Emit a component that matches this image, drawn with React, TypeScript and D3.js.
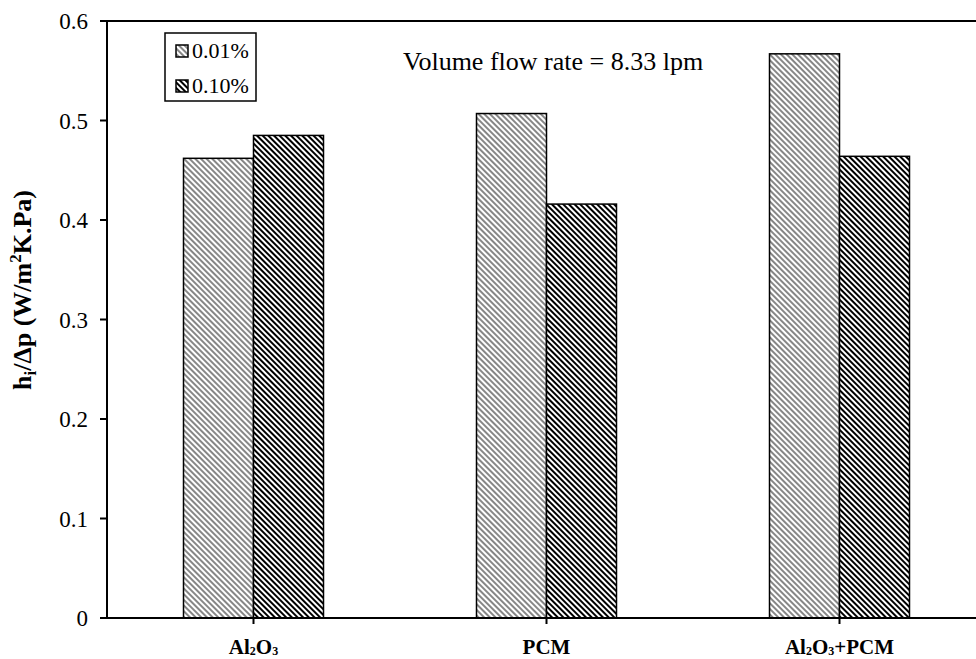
import React, { useRef, useEffect } from 'react';
import * as d3 from 'd3';

const categories = ['Al2O3', 'PCM', 'Al2O3+PCM'];
const seriesNames = ['0.01%', '0.10%'];
const values001 = [0.462, 0.507, 0.567];
const values010 = [0.485, 0.416, 0.464];
const yTicks = [0, 0.1, 0.2, 0.3, 0.4, 0.5, 0.6];

const width = 976;
const height = 659;
const margin = { top: 21, right: -10, bottom: 41, left: 107 };
const serif = "'Liberation Serif', 'Times New Roman', 'DejaVu Serif', serif";

const App: React.FC = () => {
    const svgRef = useRef<SVGSVGElement>(null);

    useEffect(() => {
        if (!svgRef.current) return;
        const svg = d3.select(svgRef.current);
        svg.selectAll('*').remove();

        const innerWidth = width - margin.left - margin.right;
        const innerHeight = height - margin.top - margin.bottom;

        // hatch patterns
        const defs = svg.append('defs');
        const hatch = (id: string, sw: number, color: string) => {
            const p = defs.append('pattern')
                .attr('id', id)
                .attr('patternUnits', 'userSpaceOnUse')
                .attr('width', 4)
                .attr('height', 4)
                .attr('patternTransform', 'rotate(-45)');
            p.append('rect').attr('width', 4).attr('height', 4).attr('fill', '#fff');
            p.append('line')
                .attr('x1', 1).attr('y1', 0).attr('x2', 1).attr('y2', 4)
                .attr('stroke', color).attr('stroke-width', sw);
        };
        hatch('hatch-light', 1.1, '#222');
        hatch('hatch-dark', 2, '#000');
        const fills = ['url(#hatch-light)', 'url(#hatch-dark)'];

        const x0 = d3.scaleBand().domain(categories).range([0, innerWidth]);
        const x1 = d3.scaleBand().domain(seriesNames).range([0, 140]);
        const y = d3.scaleLinear().domain([0, 0.6]).range([innerHeight, 0]);

        const g = svg.append('g').attr('transform', `translate(${margin.left},${margin.top})`);

        // bars
        const seriesData = [values001, values010];
        seriesData.forEach((vals, si) => {
            g.selectAll(`.bar-${si}`)
                .data(vals)
                .enter()
                .append('rect')
                .attr('x', (d, i) => (x0(categories[i]) as number) + x0.bandwidth() / 2 - 70 + (x1(seriesNames[si]) as number))
                .attr('y', d => y(d))
                .attr('width', x1.bandwidth())
                .attr('height', d => innerHeight - y(d))
                .attr('fill', fills[si])
                .attr('stroke', '#000')
                .attr('stroke-width', 1.5);
        });

        // y axis
        g.append('line')
            .attr('x1', 0).attr('x2', 0).attr('y1', 0).attr('y2', innerHeight)
            .attr('stroke', '#000').attr('stroke-width', 2);
        yTicks.forEach(t => {
            g.append('line')
                .attr('x1', -7).attr('x2', 0).attr('y1', y(t)).attr('y2', y(t))
                .attr('stroke', '#000').attr('stroke-width', 2);
            g.append('text')
                .attr('x', -19).attr('y', y(t)).attr('dy', '0.35em')
                .attr('text-anchor', 'end')
                .style('font-family', serif).attr('font-size', 23)
                .text(t === 0 ? '0' : d3.format('.1f')(t));
        });

        // top frame line
        g.append('line')
            .attr('x1', 0).attr('x2', innerWidth).attr('y1', 0).attr('y2', 0)
            .attr('stroke', '#000').attr('stroke-width', 2);

        // x axis
        g.append('line')
            .attr('x1', -7).attr('x2', innerWidth).attr('y1', innerHeight).attr('y2', innerHeight)
            .attr('stroke', '#000').attr('stroke-width', 2);
        categories.forEach(c => {
            const cx = (x0(c) as number) + x0.bandwidth() / 2;
            g.append('line')
                .attr('x1', cx).attr('x2', cx).attr('y1', innerHeight).attr('y2', innerHeight + 6)
                .attr('stroke', '#000').attr('stroke-width', 2);
            const t = g.append('text')
                .attr('x', cx).attr('y', innerHeight + 36)
                .attr('text-anchor', 'middle')
                .style('font-family', serif).attr('font-size', 21).attr('font-weight', 'bold');
            if (c === 'PCM') {
                t.text('PCM');
            } else {
                t.append('tspan').text('Al');
                t.append('tspan').attr('font-size', 12).attr('dy', 1).text('2');
                t.append('tspan').attr('dy', -1).text('O');
                t.append('tspan').attr('font-size', 12).attr('dy', 1).text('3');
                if (c === 'Al2O3+PCM') t.append('tspan').attr('dy', -1).text('+PCM');
            }
        });

        // y axis title
        const yt = svg.append('text')
            .attr('transform', `translate(31,290) rotate(-90)`)
            .attr('text-anchor', 'middle')
            .style('font-family', serif).attr('font-size', 26).attr('font-weight', 'bold');
        yt.append('tspan').text('h');
        yt.append('tspan').attr('font-size', 17).attr('dy', 5).text('i');
        yt.append('tspan').attr('dy', -5).text('/Δp (W/m');
        yt.append('tspan').attr('font-size', 17).attr('dy', -10).text('2');
        yt.append('tspan').attr('dy', 10).text('K.Pa)');

        // annotation
        svg.append('text')
            .attr('x', 403).attr('y', 70)
            .style('font-family', serif).attr('font-size', 26)
            .text('Volume flow rate = 8.33 lpm');

        // legend
        const lg = svg.append('g').attr('transform', 'translate(165,33)');
        lg.append('rect')
            .attr('width', 91).attr('height', 68)
            .attr('fill', '#fff').attr('stroke', '#000').attr('stroke-width', 1.5);
        seriesNames.forEach((s, i) => {
            lg.append('rect')
                .attr('x', 11).attr('y', 12 + i * 35)
                .attr('width', 12).attr('height', 12)
                .attr('fill', fills[i]).attr('stroke', '#000').attr('stroke-width', 1.5);
            lg.append('text')
                .attr('x', 27).attr('y', 25 + i * 35)
                .style('font-family', serif).attr('font-size', 22)
                .text(s);
        });
    }, []);

    return (
        <svg
            ref={svgRef}
            width={width}
            height={height}
            style={{ position: 'absolute', left: 0, top: 0, background: '#fff' }}
        />
    );
};

export default App;
